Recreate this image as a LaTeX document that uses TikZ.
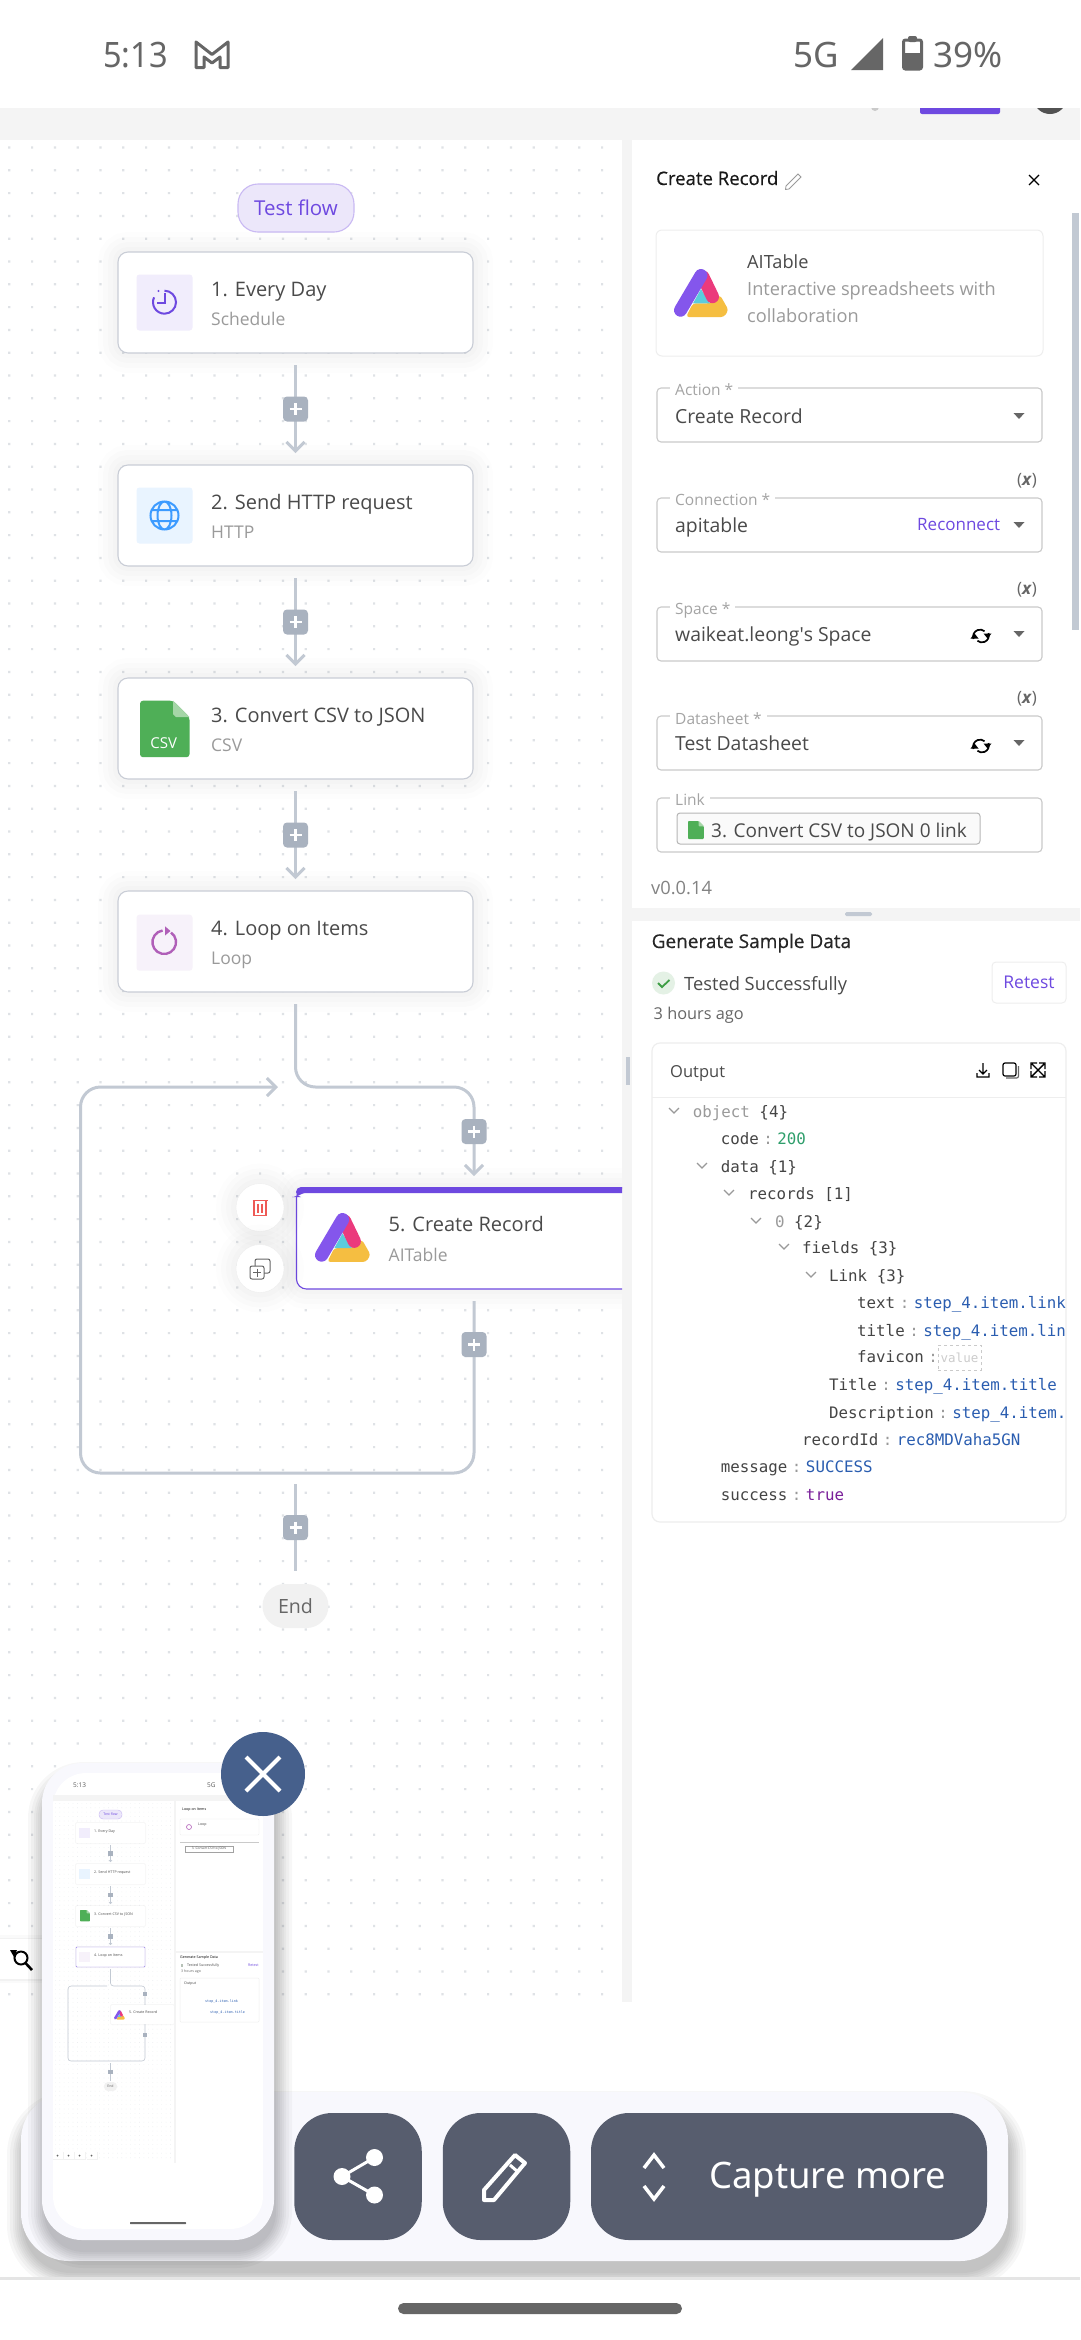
\documentclass[tikz,border=0pt]{standalone}
\usepackage{fontspec}
\setmainfont{Open Sans}
\setmonofont{DejaVu Sans Mono}
\newfontfamily\statusfont{Noto Sans}
\newfontface\semifont[FakeBold=0.5]{Open Sans}
\usetikzlibrary{arrows.meta, positioning}

\definecolor{bandgrey}{HTML}{F4F4F4}
\definecolor{dotgrey}{HTML}{DFE2E6}
\definecolor{statusgrey}{HTML}{666666}
\definecolor{flowgrey}{HTML}{C2C9D3}
\definecolor{plusgrey}{HTML}{A9B2BF}
\definecolor{cardline}{HTML}{C9CDD6}
\definecolor{titlegrey}{HTML}{4A4A4A}
\definecolor{subgrey}{HTML}{9A9A9A}
\definecolor{brandpurple}{HTML}{6E49E0}
\definecolor{pillfill}{HTML}{ECE7FA}
\definecolor{pillline}{HTML}{C9B9F3}
\definecolor{fieldline}{HTML}{CACACA}
\definecolor{softline}{HTML}{EEEEEE}
\definecolor{logopurple}{HTML}{8456EC}
\definecolor{logopink}{HTML}{EB3A7C}
\definecolor{logocyan}{HTML}{5BCCDD}
\definecolor{logoyellow}{HTML}{F5BE41}
\definecolor{csvgreen}{HTML}{4FAF57}
\definecolor{csvfold}{HTML}{A5D6A7}
\definecolor{clockbox}{HTML}{F1EDFC}
\definecolor{globebox}{HTML}{E9F4FF}
\definecolor{globeblue}{HTML}{3D9BFF}
\definecolor{loopbox}{HTML}{F7F2FA}
\definecolor{loopviolet}{HTML}{B05FB8}
\definecolor{trashred}{HTML}{EE5A56}
\definecolor{okgreen}{HTML}{E4F1E5}
\definecolor{okcheck}{HTML}{3E9E45}
\definecolor{endfill}{HTML}{F1F1F1}
\definecolor{treekey}{HTML}{444444}
\definecolor{treecolon}{HTML}{999999}
\definecolor{treegreen}{HTML}{2E9E6B}
\definecolor{treeblue}{HTML}{2A5DB0}
\definecolor{treepurple}{HTML}{7A1F9A}
\definecolor{barfill}{HTML}{F8F8FD}
\definecolor{barbutton}{HTML}{575D6E}
\definecolor{closeblue}{HTML}{46608C}

\newcommand\fsz[1]{\fontsize{#1}{#1}\selectfont}
\newcommand\kvrow[3]{#1\makebox[18.5pt][c]{\color{treecolon}:}{\color{#2}#3}}
\newcommand\ddarrow[2]{\fill[statusgrey] (#1-5.5,#2-3) -- (#1+5.5,#2-3) -- (#1,#2+3) -- cycle;}
\newcommand\treechev[2]{\draw[treecolon,line width=1.2pt] (#1-5,#2-3) -- (#1,#2+2) -- (#1+5,#2-3);}
\newcommand\refreshicon[2]{
\draw[black,line width=1.7pt] (#1-7.5,#2+3) arc (160:310:7);
\draw[black,line width=1.7pt] (#1+7.5,#2-3) arc (-20:130:7);
\fill[black] (#1+2.5,#2-2.5) -- (#1+10.5,#2-2.5) -- (#1+6.5,#2+2.5) -- cycle;
\fill[black] (#1-10.5,#2+2.5) -- (#1-2.5,#2+2.5) -- (#1-6.5,#2-2.5) -- cycle;
}
\newcommand\aitablelogo[3]{
\begin{scope}[shift={(#1,#2)},scale=#3]
\fill[logoyellow,rounded corners=#3*3pt] (12,48) -- (50,48) -- (54.5,41) -- (46,26) -- (36,34.3) -- (19,34.3) -- cycle;
\fill[logocyan] (19,34.3) -- (36,34.3) -- (27,20) -- cycle;
\draw[logopink,line width=#3*13pt,line cap=round] (29,8) -- (38.5,27.7);
\draw[logopurple,line width=#3*13pt,line cap=round] (27,6.5) -- (6.5,41.2);
\end{scope}
}
\newcommand\csvsheet[3]{
\begin{scope}[shift={(#1,#2)},scale=#3]
\fill[csvgreen,rounded corners=#3*3pt] (0,0) -- (33,0) -- (49.5,16.5) -- (49.5,56.5) -- (0,56.5) -- cycle;
\fill[csvfold] (33,0) -- (49.5,16.5) -- (36,16.5) -- (33,13.5) -- cycle;
\end{scope}
}
\newcommand\castshadow[5]{
\foreach \g in {16,13,10,8,6,4,2,0}{
\fill[black,opacity=.03,rounded corners=#5pt+\g pt] (#1-\g+2,#2-\g+15) rectangle (#3+\g+2,#4+\g+12);
}
}

\tikzset{
softshadow/.style={
preaction={draw=black,draw opacity=.008,line width=40pt},
preaction={draw=black,draw opacity=.01,line width=30pt},
preaction={draw=black,draw opacity=.012,line width=20pt},
preaction={draw=black,draw opacity=.012,line width=10pt}},
basetxt/.style={anchor=base west,inner sep=0pt},
titletxt/.style={basetxt,font=\fsz{20},text=titlegrey},
subtxt/.style={basetxt,font=\fsz{17.5},text=subgrey},
statustxt/.style={basetxt,font=\statusfont\fsz{35},text=statusgrey},
flowcard/.style={softshadow,draw=cardline,line width=1.1pt,fill=white,rounded corners=10pt,
minimum width=355pt,minimum height=101pt,inner sep=0pt,outer sep=12pt},
iconbox/.style={minimum size=56pt,inner sep=0pt,rounded corners=3pt},
flowline/.style={draw=flowgrey,line width=3pt},
flowarrow/.style={flowline,-{Straight Barb[length=9pt,width=18pt,line width=3pt]}},
plusbox/.style={fill=plusgrey,rounded corners=4pt,minimum size=25pt,inner sep=0pt,
path picture={\draw[-,white,line width=2.4pt] (path picture bounding box.center) +(-6,0) -- +(6,0) +(0,-6) -- +(0,6);}},
fieldbox/.style={draw=fieldline,line width=1.1pt,rounded corners=4pt,minimum width=385pt,minimum height=54pt,inner sep=0pt},
fieldlabel/.style={anchor=base west,fill=white,inner xsep=5pt,inner ysep=1pt,font=\fsz{15.5},text=subgrey!90!white},
fieldval/.style={basetxt,font=\fsz{19.4},text=titlegrey},
varmark/.style={inner sep=0pt,font=\fsz{17},text=statusgrey},
treetxt/.style={basetxt,font=\ttfamily\fsz{15.8},text=treekey},
sidebtn/.style={softshadow,circle,fill=white,draw=softline,minimum size=48pt,inner sep=0pt},
barbtn/.style={fill=barbutton,rounded corners=38pt,minimum height=127pt,inner sep=0pt},
minicard/.style={fill=white,rounded corners=1pt,minimum width=69pt,minimum height=20pt,inner sep=0pt,
preaction={draw=black,draw opacity=.03,line width=2pt},outer sep=2pt},
minitxt/.style={basetxt,font=\fsz{3.6},text=titlegrey},
miniline/.style={draw=flowgrey,line width=.6pt},
miniplus/.style={fill=plusgrey,minimum size=4.5pt,inner sep=0pt},
minitool/.style={fill=white,minimum width=10pt,minimum height=7pt,inner sep=0pt,
preaction={draw=black,draw opacity=.05,line width=1pt}}
}

\begin{document}
\begin{tikzpicture}[x=1pt,y=-1pt]
\useasboundingbox (0,0) rectangle (1080,2340);
\fill[white] (0,0) rectangle (1080,2340);

\fill[bandgrey] (0,108) rectangle (1080,140);
\fill[bandgrey] (622,140) rectangle (632,2002);
\fill[bandgrey] (632,908) rectangle (1080,921);
\fill[brandpurple,rounded corners=2pt] (920,100) rectangle (1000,114);
\begin{scope}
\clip (0,108) rectangle (1080,140);
\fill[statusgrey!80!black] (1050,97) circle (17);
\fill[fieldline] (875,107) circle (4);
\end{scope}
\fill[white] (0,0) rectangle (1080,108);

\node[statustxt] (clock) at (103,67) {\scalebox{.93}[1]{5:13}};
\draw[statusgrey,line width=3pt,line join=round] (196,42) -- (212,54.5) -- (228,42) -- (228,67.5) -- (220,67.5) -- (220,57) -- (212,63) -- (204,57) -- (204,67.5) -- (196,67.5) -- cycle;
\node[statustxt] (network) at (793,67) {5G};
\fill[statusgrey] (851,70) -- (883,38) -- (883,70) -- cycle;
\fill[statusgrey,rounded corners=2pt] (908,36) rectangle (917,42);
\draw[statusgrey,line width=3pt,rounded corners=2pt] (903.5,40) rectangle (921.5,69);
\fill[statusgrey] (903.5,53) rectangle (921.5,69);
\node[statustxt] (battery) at (933,67) {39\%};

\fill[dotgrey] \foreach \i in {0,...,26}{\foreach \j in {0,...,81}{(8.2+22.8*\i,146.4+22.8*\j) rectangle ++(2.2,2.2)}};

\node[draw=pillline,fill=pillfill,line width=1.1pt,rounded corners=20pt,minimum width=116pt,minimum height=48pt,inner sep=0pt,text=brandpurple,font=\fsz{20.5}] (testflow) at (296,208) {Test flow};

\node[flowcard] (card1) at (295.5,302.5) {};
\node[flowcard] (card2) at (295.5,515.5) {};
\node[flowcard] (card3) at (295.5,728.5) {};
\node[flowcard] (card4) at (295.5,941.5) {};

\node[iconbox,fill=clockbox] (icon1) at (164.5,302.5) {};
\draw[brandpurple,line width=2pt] (164.5,290.7) arc (-90:205:11.5);
\draw[brandpurple,line width=2pt] (164.5,293) -- (164.5,303) -- (157,303);
\fill[brandpurple] (158.5,291) circle (1.2);
\node[iconbox,fill=globebox] (icon2) at (164.5,515.5) {};
\draw[globeblue,line width=2pt] (164.5,515.5) circle (14) (164.5,515.5) ellipse (7 and 14) (151.5,510) -- (177.5,510) (151.5,521) -- (177.5,521);
\csvsheet{140}{700.7}{1}
\node[text=white,inner sep=0pt,font=\fsz{15}] (csvtag) at (163.7,743.3) {CSV};
\node[iconbox,fill=loopbox] (icon4) at (164.5,942.7) {};
\draw[loopviolet,line width=2.4pt] (171,932.5) arc (-55:262:11.8);
\fill[loopviolet] (165,926.3) -- (170.5,931) -- (165,935.5) -- cycle;

\node[titletxt] (title1) at (211,296) {1. Every Day};
\node[subtxt] (sub1) at (211,325) {Schedule};
\node[titletxt] (title2) at (211,509) {2. Send HTTP request};
\node[subtxt] (sub2) at (211,538) {HTTP};
\node[titletxt] (title3) at (211,722) {3. Convert CSV to JSON};
\node[subtxt] (sub3) at (211,751) {CSV};
\node[titletxt] (title4) at (211,935) {4. Loop on Items};
\node[subtxt] (sub4) at (211,964) {Loop};

\begin{scope}
\clip (0,140) rectangle (622,2002);
\node[flowcard,draw=brandpurple] (card5) at (474,1238.5) {};
\fill[brandpurple,rounded corners=5pt] (296,1187) -- (652,1187) -- (652,1193) -- (301,1193) -- (297,1197) -- (296,1197) -- cycle;
\end{scope}
\aitablelogo{315}{1213}{1.02}
\node[titletxt] (title5) at (388.5,1231) {5. Create Record};
\node[subtxt] (sub5) at (388.5,1261) {AITable};

\node[sidebtn] (trashbtn) at (260,1207.5) {};
\node[sidebtn] (copybtn) at (260,1268.5) {};
\draw[trashred,line width=1.2pt] (252.5,1200.5) -- (267.5,1200.5) (254,1200.5) rectangle (266,1215.5) (258,1203.5) -- (258,1213) (262,1203.5) -- (262,1213);
\draw[statusgrey,line width=1pt,rounded corners=2pt] (250,1266) rectangle (264,1279);
\draw[statusgrey,line width=1pt,rounded corners=2pt] (255,1266) -- (255,1259) -- (270,1259) -- (270,1273) -- (264,1273);
\draw[statusgrey,line width=1pt] (253,1272.5) -- (261,1272.5) (257,1268.5) -- (257,1276.5);

\draw[flowarrow] (card1) -- node[plusbox] (plus1) {} (card2);
\draw[flowarrow] (card2) -- node[plusbox] (plus2) {} (card3);
\draw[flowarrow] (card3) -- node[plusbox] (plus3) {} (card4);

\coordinate (looptop) at (295.5,1087);
\coordinate (loopright) at (474,1087);
\coordinate (loopbr) at (474,1473);
\coordinate (loopbl) at (80.5,1473);
\coordinate (looptl) at (80.5,1087);
\coordinate (loophead) at (278,1087);
\coordinate (endstart) at (295.5,1484);
\draw[flowarrow,rounded corners=20pt] (card4.south) -- (looptop) -- (loopright) -- (card5.north);
\draw[flowarrow,rounded corners=20pt] (card5.south) -- (loopbr) -- (loopbl) -- (looptl) -- (loophead);
\node[plusbox] (plus4) at (474,1131.5) {};
\node[plusbox] (plus5) at (474,1344.5) {};

\node[fill=endfill,draw=none,rounded corners=22pt,minimum width=66pt,minimum height=44pt,inner sep=0pt,outer sep=13pt,text=statusgrey,font=\fsz{19.6}] (endpill) at (295.5,1606) {End};
\draw[flowline] (endstart) -- node[plusbox] (plus6) {} (endpill);

\fill[flowgrey] (625.5,1057) rectangle (629.5,1085);

\fill[flowgrey] (1072,213) rectangle (1079,630);
\node[basetxt,font=\semifont\fsz{18.6},text=black!90!white] (paneltitle) at (656,185) {Create Record};
\draw[subgrey,line width=.8pt] (786,186) -- (798,174) -- (801,177) -- (789,189) -- (785.5,189.5) -- cycle;
\draw[black,line width=1.1pt] (1029,175) -- (1039,185) (1039,175) -- (1029,185);

\node[draw=softline,line width=1pt,rounded corners=6pt,minimum width=387pt,minimum height=126pt,inner sep=0pt] (infocard) at (849.5,293) {};
\aitablelogo{674}{269}{1}
\node[basetxt,font=\fsz{18.2},text=titlegrey] (infoname) at (747,268) {AITable};
\node[basetxt,font=\fsz{18.2},text=subgrey] (infodesc1) at (747,295) {Interactive spreadsheets with};
\node[basetxt,font=\fsz{18.2},text=subgrey] (infodesc2) at (747,322) {collaboration};

\node[fieldbox] (actionbox) at (849.5,415) {};
\node[fieldlabel] (actionlabel) at (670,395) {Action *};
\node[fieldval] (actionval) at (675,423) {Create Record};
\ddarrow{1019}{416}

\node[varmark] (varconn) at (1027,481) {(\textit{\textbf{x}})};
\node[fieldbox] (connbox) at (849.5,525) {};
\node[fieldlabel] (connlabel) at (670,505) {Connection *};
\node[fieldval] (connval) at (675,532) {apitable};
\node[basetxt,font=\fsz{17},text=brandpurple] (reconnect) at (917,530) {Reconnect};
\ddarrow{1019}{525}

\node[varmark] (varspace) at (1027,590) {(\textit{\textbf{x}})};
\node[fieldbox] (spacebox) at (849.5,634) {};
\node[fieldlabel] (spacelabel) at (670,614) {Space *};
\node[fieldval] (spaceval) at (675,641) {waikeat.leong\textquotesingle s Space};
\refreshicon{981}{636}
\ddarrow{1019}{634}

\node[varmark] (varsheet) at (1027,699) {(\textit{\textbf{x}})};
\node[fieldbox] (sheetbox) at (849.5,743) {};
\node[fieldlabel] (sheetlabel) at (670,724) {Datasheet *};
\node[fieldval] (sheetval) at (675,750) {Test Datasheet};
\refreshicon{981}{746}
\ddarrow{1019}{743}

\node[fieldbox] (linkbox) at (849.5,825) {};
\node[fieldlabel] (linklabel) at (670,805) {Link};
\node[draw=fieldline!90!black,fill=black!2!white,line width=1pt,rounded corners=3pt,minimum width=303pt,minimum height=31pt,inner sep=0pt] (linkchip) at (828.5,828.5) {};
\csvsheet{688}{821}{.32}
\node[basetxt,font=\fsz{19},text=titlegrey] (chiptxt) at (711,837) {3. Convert CSV to JSON 0 link};

\node[basetxt,font=\fsz{18.3},text=subgrey!85!black] (version) at (651,894) {v0.0.14};
\fill[flowgrey,rounded corners=1.5pt] (845,912) rectangle (872,916);

\node[basetxt,font=\semifont\fsz{19},text=black!85!white] (gentitle) at (651.5,948) {Generate Sample Data};
\node[circle,fill=okgreen,minimum size=23pt,inner sep=0pt] (okmark) at (663.5,983) {};
\draw[okcheck,line width=1.8pt] (658,983) -- (662,987) -- (669.5,980);
\node[basetxt,font=\fsz{18.3},text=titlegrey] (tested) at (684,990) {Tested Successfully};
\node[basetxt,font=\fsz{16.3},text=statusgrey] (hoursago) at (653.5,1019) {3 hours ago};
\node[draw=softline,line width=1pt,rounded corners=4pt,minimum width=74pt,minimum height=41pt,inner sep=0pt,text=brandpurple,font=\fsz{17.5}] (retest) at (1029,982.5) {Retest};

\node[draw=softline,line width=1.2pt,rounded corners=8pt,minimum width=414pt,minimum height=479pt,inner sep=0pt] (outputbox) at (859,1282.5) {};
\draw[softline,line width=1pt] (652,1097) -- (1066,1097);
\node[basetxt,font=\fsz{16.5},text=titlegrey] (outputtitle) at (670,1077) {Output};
\draw[black,line width=1.2pt] (983,1063) -- (983,1073) (979,1070) -- (983,1074) -- (987,1070) (977,1073) -- (977,1077) -- (989,1077) -- (989,1073);
\draw[black,line width=1.2pt,rounded corners=2pt] (1003,1063) rectangle (1016,1076);
\draw[statusgrey,line width=1.2pt,rounded corners=2pt] (1018.5,1066) -- (1018.5,1078) -- (1006,1078);
\draw[black,line width=1.4pt] (1032,1064) -- (1044,1076) (1044,1064) -- (1032,1076) (1031,1069) -- (1031,1063) -- (1037,1063) (1039,1063) -- (1045,1063) -- (1045,1069) (1031,1071) -- (1031,1077) -- (1037,1077) (1039,1077) -- (1045,1077) -- (1045,1071);

\treechev{674}{1111}
\treechev{702}{1166}
\treechev{729}{1193}
\treechev{756}{1221}
\treechev{784}{1247}
\treechev{811}{1275}
\begin{scope}
\clip (652,1098) rectangle (1065,1522);
\node[treetxt] (treeroot) at (692.7,1117) {{\color{subgrey}object} \{4\}};
\node[treetxt] (treecode) at (720.7,1144) {\kvrow{code}{treegreen}{200}};
\node[treetxt] (treedata) at (720.7,1172) {data \{1\}};
\node[treetxt] (treerecords) at (748,1199) {records [1]};
\node[treetxt] (treezero) at (775,1227) {{\color{subgrey}0} \{2\}};
\node[treetxt] (treefields) at (802,1253) {fields \{3\}};
\node[treetxt] (treelink) at (829,1281) {Link \{3\}};
\node[treetxt] (treetext) at (857,1308) {\kvrow{text}{treeblue}{step\_4.item.link}};
\node[treetxt] (treetitle) at (857,1336) {\kvrow{title}{treeblue}{step\_4.item.link}};
\node[treetxt] (treefavicon) at (857,1362) {\kvrow{favicon}{treeblue}{}};
\node[treetxt] (treeTitle) at (829,1390) {\kvrow{Title}{treeblue}{step\_4.item.title}};
\node[treetxt] (treedesc) at (829,1418) {\kvrow{Description}{treeblue}{step\_4.item.description}};
\node[treetxt] (treeid) at (802,1445) {\kvrow{recordId}{treeblue}{rec8MDVaha5GN}};
\node[treetxt] (treemsg) at (720.7,1472) {\kvrow{message}{treeblue}{SUCCESS}};
\node[treetxt] (treeok) at (720.7,1500) {\kvrow{success}{treepurple}{true}};
\end{scope}
\node[draw=softline!85!black,dashed,line width=.8pt,minimum width=43pt,minimum height=25pt,inner sep=0pt,text=black!20!white,font=\ttfamily\fsz{12.5}] (valuehint) at (959.5,1357.5) {value};

\node[fill=white,minimum width=42pt,minimum height=40pt,inner sep=0pt,
preaction={draw=black,draw opacity=.02,line width=8pt},preaction={draw=black,draw opacity=.03,line width=3pt}] (zoomtab) at (21,1959) {};
\draw[black,line width=2pt] (21,1958) circle (6.5);
\draw[black,line width=2.6pt] (25.5,1963) -- (32,1970);
\fill[black] (10,1950) -- (17,1950) -- (14,1957) -- cycle;

\begin{scope}
\clip (0,0) rectangle (1080,2277);
\castshadow{21}{2092}{1008}{2261}{48}
\node[fill=barfill,rounded corners=48pt,minimum width=987pt,minimum height=169pt,inner sep=0pt] (toolbar) at (514.5,2176.5) {};
\node[barbtn,minimum width=127.5pt] (sharebtn) at (358,2176.5) {};
\node[barbtn,minimum width=127.5pt] (editbtn) at (506.5,2176.5) {};
\node[barbtn,minimum width=396pt] (capturebtn) at (789,2176.5) {};
\castshadow{42}{1763}{274}{2240}{40}
\node[fill=barfill,rounded corners=40pt,minimum width=232pt,minimum height=477pt,inner sep=0pt] (thumb) at (158,2001.5) {};
\end{scope}
\fill[black!10!white] (0,2277) rectangle (1080,2280);
\fill[statusgrey,rounded corners=5.5pt] (398,2303) rectangle (682,2314);

\draw[white,line width=3pt] (374.5,2157.5) -- (342,2176.5) -- (374.5,2195);
\fill[white] (374.5,2157.5) circle (8.5) (342,2176.5) circle (8.5) (374.5,2195) circle (8.5);
\draw[white,line width=4pt,line join=round] (484,2200) -- (484,2190) -- (515,2155) -- (525,2163) -- (494,2200) -- cycle;
\draw[white,line width=3pt] (510,2165) -- (518,2172);
\draw[white,line width=3.5pt] (644,2168) -- (654,2155) -- (664,2168) (644,2186) -- (654,2199) -- (664,2186);
\node[basetxt,font=\statusfont\fsz{36.5},text=white] (capturetxt) at (709,2188) {Capture more};

\fill[white,rounded corners=33pt] (53,1773) rectangle (263,2229);
\fill[bandgrey] (53,1795) rectangle (263,1801);
\fill[bandgrey] (174,1801) rectangle (176,2163);
\fill[bandgrey] (176,1951) rectangle (263,1953);
\fill[dotgrey!60!white] \foreach \i in {0,...,26}{\foreach \j in {0,...,80}{(55+4.43*\i,1803+4.43*\j) rectangle ++(.6,.6)}};
\node[minitxt,font=\statusfont\fsz{6.5},text=statusgrey] (miniclock) at (73,1787) {5:13};
\node[minitxt,font=\statusfont\fsz{6.5},text=statusgrey] (mininet) at (207,1787) {5G};

\node[fill=pillfill,draw=pillline,line width=.4pt,rounded corners=4pt,minimum width=23pt,minimum height=9pt,inner sep=0pt,text=brandpurple,font=\fsz{3.5}] (minitest) at (110.5,1814.5) {Test flow};
\node[minicard] (mini1) at (110.5,1833) {};
\node[minicard] (mini2) at (110.5,1874) {};
\node[minicard] (mini3) at (110.5,1916) {};
\node[minicard,draw=brandpurple!70!white,line width=.4pt] (mini4) at (110.5,1957) {};
\fill[clockbox] (79,1828) rectangle (90,1838);
\fill[globebox] (79,1869) rectangle (90,1879);
\csvsheet{80}{1910}{.2}
\fill[loopbox] (79,1952) rectangle (90,1962);
\node[minitxt] (minititle1) at (94,1832) {1. Every Day};
\node[minitxt] (minititle2) at (94,1873) {2. Send HTTP request};
\node[minitxt] (minititle3) at (94,1915) {3. Convert CSV to JSON};
\node[minitxt] (minititle4) at (94,1956) {4. Loop on Items};

\draw[miniline,-{Straight Barb[length=1.5pt,width=3pt,line width=.6pt]}] (mini1) -- node[miniplus] (miniplus1) {} (mini2);
\draw[miniline,-{Straight Barb[length=1.5pt,width=3pt,line width=.6pt]}] (mini2) -- node[miniplus] (miniplus2) {} (mini3);
\draw[miniline,-{Straight Barb[length=1.5pt,width=3pt,line width=.6pt]}] (mini3) -- node[miniplus] (miniplus3) {} (mini4);
\coordinate (minitop) at (110.5,1986);
\coordinate (minitr) at (145,1986);
\coordinate (minibr) at (145,2061);
\coordinate (minibl) at (68,2061);
\coordinate (minitl) at (68,1986);
\coordinate (minihead) at (107,1986);
\draw[miniline,rounded corners=3pt] (mini4.south) -- (minitop) -- (minitr) -- (minibr) -- (minibl) -- (minitl) -- (minihead);
\node[minicard,outer sep=0pt,minimum width=63pt,minimum height=19pt] (mini5) at (142.5,2014.5) {};
\fill[bandgrey] (174,2000) rectangle (176,2030);
\aitablelogo{114}{2010}{.2}
\node[minitxt] (minititle5) at (129,2013) {5. Create Record};
\node[miniplus] (miniplus4) at (145,1994) {};
\node[miniplus] (miniplus5) at (145,2035) {};
\coordinate (miniendtop) at (110.5,2063);
\node[fill=endfill,rounded corners=4pt,minimum width=13pt,minimum height=9pt,inner sep=0pt,outer sep=1.5pt,text=statusgrey,font=\fsz{3.5}] (miniend) at (110.5,2086.5) {End};
\draw[miniline] (miniendtop) -- node[miniplus] (miniplus6) {} (miniend);

\node[minitxt,text=black] (minipanel) at (182,1810) {Loop on Items};
\node[draw=softline,line width=.4pt,rounded corners=1pt,minimum width=79pt,minimum height=16pt,inner sep=0pt] (miniinfo) at (219.5,1827) {};
\draw[loopviolet,line width=.6pt] (189,1827) circle (2.5);
\node[minitxt] (mininame) at (198,1825) {Loop};
\draw[fieldline,line width=.7pt] (180,1842) -- (259,1842);
\node[draw=fieldline!80!black,line width=.4pt,minimum width=48pt,minimum height=6pt,inner sep=0pt,font=\fsz{3.2},text=titlegrey] (minichip) at (209,1849) {3. Convert CSV to JSON};
\node[minitxt,text=black] (minigen) at (180,1958) {Generate Sample Data};
\fill[okgreen!80!black] (181,1964) rectangle (183,1967);
\node[minitxt] (minitested) at (187,1966.5) {Tested Successfully};
\node[minitxt,text=brandpurple] (miniretest) at (248,1966.5) {Retest};
\node[minitxt,text=statusgrey] (miniago) at (181,1972) {3 hours ago};
\node[draw=softline,line width=.5pt,rounded corners=1pt,minimum width=79pt,minimum height=44pt,inner sep=0pt] (minioutput) at (219.5,2000) {};
\node[minitxt] (minioutlabel) at (184,1984) {Output};
\node[minitxt,text=treeblue,font=\ttfamily\fsz{3.4}] (minirow1) at (205,2002) {step\_4.item.link};
\node[minitxt,text=treeblue,font=\ttfamily\fsz{3.4}] (minirow2) at (210,2013) {step\_4.item.title};
\node[minitool] (minitool1) at (58,2155.5) {};
\node[minitool] (minitool2) at (69,2155.5) {};
\node[minitool] (minitool3) at (80,2155.5) {};
\node[minitool] (minitool4) at (92,2155.5) {};
\fill[statusgrey] (57.5,2155.5) circle (1) (68.5,2155.5) circle (1) (79.5,2155.5) circle (1) (91.5,2155.5) circle (1);
\fill[statusgrey,rounded corners=.5pt] (130,2222) rectangle (186,2224);

\node[circle,fill=closeblue,minimum size=84pt,inner sep=0pt] (closebtn) at (263,1774) {};
\draw[white,line width=4pt] (246,1757) -- (280,1791) (280,1757) -- (246,1791);
\end{tikzpicture}
\end{document}
